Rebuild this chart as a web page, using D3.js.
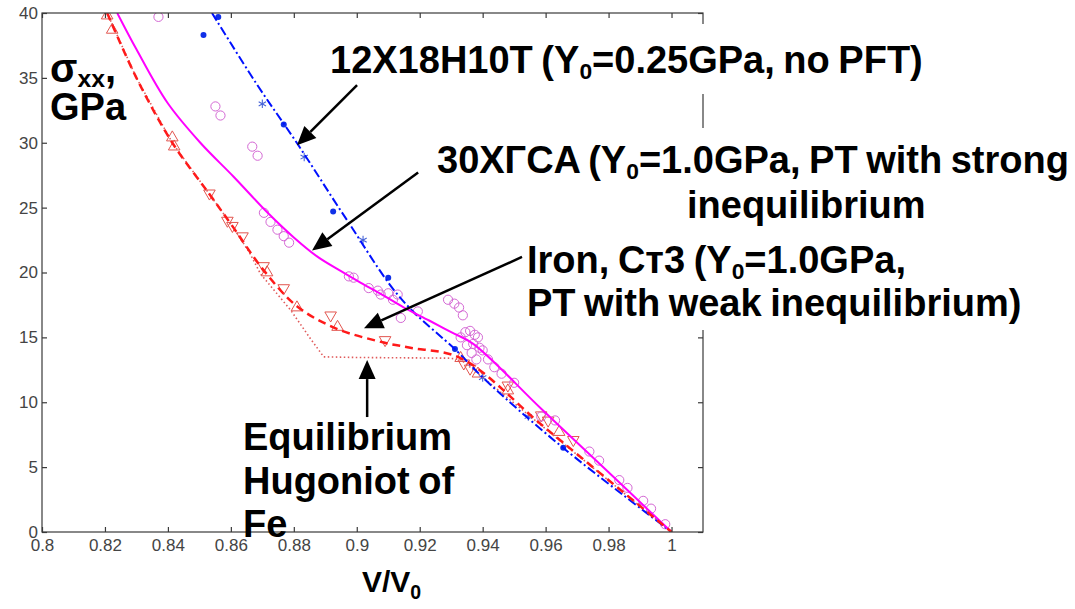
<!DOCTYPE html>
<html>
<head>
<meta charset="utf-8">
<script src="https://cdn.jsdelivr.net/npm/d3@7"></script>
<style>
  body { margin: 0; background: #fff; }
  svg { display: block; }
  text { font-family: "Liberation Sans", Arial, Helvetica, sans-serif; }
</style>
</head>
<body>
<svg id="chart" width="1075" height="609"></svg>
<script>
// ---- Axis ticks ----
const xTickValues = [0.8, 0.82, 0.84, 0.86, 0.88, 0.9, 0.92, 0.94, 0.96, 0.98, 1.0];
const xTickLabels = ["0.8", "0.82", "0.84", "0.86", "0.88", "0.9", "0.92", "0.94", "0.96", "0.98", "1"];
const yTickValues = [0, 5, 10, 15, 20, 25, 30, 35, 40];
const yTickLabels = ["0", "5", "10", "15", "20", "25", "30", "35", "40"];

// ---- Model curves (V/V0, sigma_xx in GPa) ----
// 12X18H10T steel, Y0 = 0.25 GPa, no phase transformation
const steelLineV = [0.8540, 0.8680, 0.8812, 0.8970, 0.9140, 0.9320, 0.9405, 0.9650, 1.0000];
const steelLineS = [40.0, 34.6, 29.9, 24.0, 18.0, 13.9, 11.8, 6.6, 0.0];

// 30XГCA steel, Y0 = 1.0 GPa, strong inequilibrium
const alloyLineV = [0.8239, 0.8300, 0.8398, 0.8503, 0.8608, 0.8717, 0.8800, 0.8876, 0.8950, 0.9013,
  0.9080, 0.9150, 0.9230, 0.9300, 0.9370, 0.9586, 0.9800, 1.0000];
const alloyLineS = [40.0, 37.2, 33.1, 30.0, 27.4, 24.6, 22.7, 21.2, 20.1, 19.2,
  18.3, 17.3, 16.3, 15.4, 14.5, 9.5, 4.6, 0.0];

// Iron Cт3, Y0 = 1.0 GPa, weak inequilibrium
const ironLineV = [0.8207, 0.8300, 0.8414, 0.8530, 0.8610, 0.8700, 0.8810, 0.8933, 0.9086, 0.9170, 0.9330, 0.9600, 1.0000];
const ironLineS = [40.0, 35.0, 30.0, 26.1, 23.4, 20.3, 17.4, 15.7, 14.6, 14.2, 13.4, 8.0, 0.0];

// Equilibrium Hugoniot of Fe
const eqLineV = [0.8207, 0.8300, 0.8414, 0.8530, 0.8610, 0.8660, 0.8694, 0.8790, 0.8850, 0.8895, 0.9000, 0.9290, 0.9330, 1.0000];
const eqLineS = [40.0, 35.0, 30.0, 26.1, 23.4, 21.5, 19.9, 17.1, 15.0, 13.5, 13.45, 13.4, 13.3, 0.0];

// ---- Experimental points ----
// 12X18H10T: two shot series (filled dots, asterisks)
const steelDotV = [0.8513, 0.8560, 0.8768, 0.8925, 0.9100, 0.9312, 0.9656];
const steelDotS = [38.3, 39.7, 31.4, 24.7, 19.6, 14.1, 6.5];
const steelStarV = [0.8700, 0.8833, 0.9020, 0.9400, 0.9545];
const steelStarS = [33.0, 28.9, 22.5, 11.9, 8.9];

// 30XГCA (open circles)
const alloyPtV = [0.8370, 0.8551, 0.8567, 0.8668, 0.8685, 0.8705, 0.8726, 0.8748, 0.8768, 0.8785,
  0.8975, 0.8990, 0.9038, 0.9067, 0.9076, 0.9100, 0.9115, 0.9130, 0.9140, 0.9194,
  0.9290, 0.9310, 0.9325, 0.9337, 0.9330, 0.9345, 0.9360, 0.9375, 0.9385, 0.9350,
  0.9370, 0.9390, 0.9400, 0.9365, 0.9380, 0.9417, 0.9437, 0.9460, 0.9500, 0.9586,
  0.9630, 0.9739, 0.9770, 0.9834, 0.9860, 0.9910, 0.9935, 0.9980];
const alloyPtS = [39.7, 32.8, 32.1, 29.7, 29.0, 24.6, 23.9, 23.3, 22.8, 22.3,
  19.7, 19.6, 18.8, 18.6, 18.3, 18.4, 17.9, 18.3, 16.5, 17.0,
  17.9, 17.6, 17.3, 16.7, 15.0, 15.4, 15.5, 15.2, 15.0, 14.4,
  14.5, 14.2, 14.0, 13.8, 13.3, 13.3, 12.7, 12.2, 11.5, 8.9,
  8.6, 6.2, 5.5, 4.0, 3.4, 2.4, 1.8, 0.6];

// Iron Cт3 (upward and downward triangles)
const ironUpV = [0.8207, 0.8223, 0.8414, 0.8420, 0.8715, 0.8810, 0.8939, 0.9330, 0.9385, 0.9480, 0.9643];
const ironUpS = [39.8, 38.7, 30.4, 29.7, 20.0, 17.3, 15.8, 13.4, 12.2, 10.9, 7.7];
const ironDownV = [0.8532, 0.8589, 0.8605, 0.8637, 0.8704, 0.8768, 0.8917, 0.9090, 0.9340, 0.9360, 0.9480, 0.9586, 0.9608, 0.9688];
const ironDownS = [26.1, 24.0, 23.6, 22.8, 20.5, 18.8, 16.7, 14.8, 13.0, 12.6, 11.3, 9.0, 8.6, 7.1];

// ---- Annotation arrows: tail and tip in data units ----
const arrowTailV = [0.9001, 0.9195, 0.9525, 0.9033];
const arrowTailS = [34.45, 27.7, 21.2, 8.86];
const arrowTipV = [0.8810, 0.8858, 0.9023, 0.9033];
const arrowTipS = [29.8, 21.7, 15.7, 13.25];

// ---- Layout ----
const svg = d3.select("#chart");
svg.append("rect").attr("width", 1075).attr("height", 609).attr("fill", "#fff");

const x = d3.scaleLinear().domain([0.8, 1.01]).range([42, 703]);
const y = d3.scaleLinear().domain([0, 40]).range([532, 13]);
const zip = (a, b) => a.map((v, i) => [v, b[i]]);

const plot = svg.append("g");
plot.append("clipPath").attr("id", "clip").append("rect")
  .attr("x", 42).attr("y", 13).attr("width", 661).attr("height", 519);
const data = plot.append("g").attr("clip-path", "url(#clip)");

// markers
const tri = d3.symbol().type(d3.symbolTriangle).size(58);
data.selectAll(".up").data(zip(ironUpV, ironUpS)).join("path")
  .attr("d", tri).attr("transform", d => `translate(${x(d[0])},${y(d[1])})`)
  .attr("fill", "none").attr("stroke", "#e2554f").attr("stroke-width", 1);
data.selectAll(".down").data(zip(ironDownV, ironDownS)).join("path")
  .attr("d", tri).attr("transform", d => `translate(${x(d[0])},${y(d[1])}) rotate(180)`)
  .attr("fill", "none").attr("stroke", "#e2554f").attr("stroke-width", 1);

data.selectAll(".circ").data(zip(alloyPtV, alloyPtS)).join("circle")
  .attr("cx", d => x(d[0])).attr("cy", d => y(d[1])).attr("r", 4.6)
  .attr("fill", "none").attr("stroke", "#d468d4").attr("stroke-width", 1);

data.selectAll(".dot").data(zip(steelDotV, steelDotS)).join("circle")
  .attr("cx", d => x(d[0])).attr("cy", d => y(d[1])).attr("r", 3)
  .attr("fill", "#1030e8");
const star = d3.symbol().type(d3.symbolAsterisk).size(50);
data.selectAll(".star").data(zip(steelStarV, steelStarS)).join("path")
  .attr("d", star).attr("transform", d => `translate(${x(d[0])},${y(d[1])})`)
  .attr("fill", "none").attr("stroke", "#4a66d8").attr("stroke-width", 1.1);

// curves
const smooth = d3.line().x(d => x(d[0])).y(d => y(d[1])).curve(d3.curveCatmullRom.alpha(0.5));
const straight = d3.line().x(d => x(d[0])).y(d => y(d[1]));

data.append("path").attr("d", straight(zip(eqLineV, eqLineS)))
  .attr("fill", "none").attr("stroke", "#e05a5a").attr("stroke-width", 1.6)
  .attr("stroke-dasharray", "1.5,2.5");
data.append("path").attr("d", smooth(zip(steelLineV, steelLineS)))
  .attr("fill", "none").attr("stroke", "#0010ff").attr("stroke-width", 2)
  .attr("stroke-dasharray", "9,3,2,3");
data.append("path").attr("d", smooth(zip(alloyLineV, alloyLineS)))
  .attr("fill", "none").attr("stroke", "#ff00ff").attr("stroke-width", 2);
data.append("path").attr("d", smooth(zip(ironLineV, ironLineS)))
  .attr("fill", "none").attr("stroke", "#ff1a1a").attr("stroke-width", 2.5)
  .attr("stroke-dasharray", "8,5");

// frame and ticks
const axisColor = "#3a3a3a";
function styleAxis(g, showLabels) {
  g.select(".domain").remove();
  g.selectAll(".tick line").attr("stroke", axisColor).attr("stroke-width", 1.2);
  if (showLabels) {
    g.selectAll(".tick text").attr("fill", "#444").attr("font-size", 17)
      .attr("font-family", "'Liberation Sans', Arial, sans-serif");
  } else {
    g.selectAll(".tick text").remove();
  }
}
plot.append("g").attr("transform", `translate(0,${y(0)})`)
  .call(d3.axisBottom(x).tickValues(xTickValues).tickFormat((d, i) => xTickLabels[i])
    .tickSizeInner(-5).tickSizeOuter(0).tickPadding(7))
  .call(g => styleAxis(g, true));
plot.append("g").attr("transform", `translate(0,${y(40)})`)
  .call(d3.axisTop(x).tickValues(xTickValues).tickSizeInner(-5).tickSizeOuter(0))
  .call(g => styleAxis(g, false));
plot.append("g").attr("transform", `translate(${x(0.8)},0)`)
  .call(d3.axisLeft(y).tickValues(yTickValues).tickFormat((d, i) => yTickLabels[i])
    .tickSizeInner(-5).tickSizeOuter(0).tickPadding(4))
  .call(g => styleAxis(g, true));
plot.append("g").attr("transform", `translate(${x(1.01)},0)`)
  .call(d3.axisRight(y).tickValues(yTickValues).tickSizeInner(-5).tickSizeOuter(0))
  .call(g => styleAxis(g, false));
plot.append("rect").attr("x", x(0.8)).attr("y", y(40))
  .attr("width", x(1.01) - x(0.8)).attr("height", y(0) - y(40))
  .attr("fill", "none").attr("stroke", axisColor).attr("stroke-width", 1.2);

// ---- Annotations ----
const ann = svg.append("g");
// white backing behind the callout texts
[[325, 24, 605, 70], [428, 128, 647, 104], [520, 232, 525, 98]].forEach(b =>
  ann.append("rect").attr("x", b[0]).attr("y", b[1]).attr("width", b[2]).attr("height", b[3]).attr("fill", "#fff"));

// parts: plain strings, or {sub, scale, shift} for a lowered, smaller run
function label(xp, yp, parts, size) {
  const t = ann.append("text").attr("x", xp).attr("y", yp)
    .attr("font-size", size).attr("font-weight", "bold").attr("fill", "#000")
    .attr("word-spacing", -2);
  let pending = 0;
  parts.forEach(p => {
    if (typeof p === "string") {
      const s = t.append("tspan").text(p);
      if (pending) { s.attr("dy", -pending); pending = 0; }
    } else {
      t.append("tspan").attr("font-size", size * p.scale).attr("dy", p.shift).text(p.sub);
      pending = p.shift;
    }
  });
  return t;
}
const FS = 38;
const sub0 = { sub: "0", scale: 0.6, shift: 6 };
label(330, 73, ["12X18H10T (Y", sub0, "=0.25GPa, no PFT)"], FS);
label(437, 173, ["30XГCA (Y", sub0, "=1.0GPa, PT with strong"], FS);
label(687, 218, ["inequilibrium"], FS);
label(527, 273, ["Iron, Cт3 (Y", sub0, "=1.0GPa,"], FS);
label(527, 316, ["PT with weak inequilibrium)"], FS);
label(243, 450, ["Equilibrium"], FS);
label(243, 494, ["Hugoniot of"], FS);
label(243, 537, ["Fe"], FS);

label(50, 82, ["σ", { sub: "xx", scale: 0.62, shift: 5 }, ","], 40);
label(50, 120, ["GPa"], 38);
label(362, 592, ["V/V", { sub: "0", scale: 0.65, shift: 7 }], 30);

// arrows
arrowTailV.forEach((tv, i) => {
  const x1 = x(tv), y1 = y(arrowTailS[i]), x2 = x(arrowTipV[i]), y2 = y(arrowTipS[i]);
  const ang = Math.atan2(y2 - y1, x2 - x1);
  const L = 19, W = 8.5;
  const bx = x2 - L * Math.cos(ang), by = y2 - L * Math.sin(ang);
  ann.append("line").attr("x1", x1).attr("y1", y1).attr("x2", bx).attr("y2", by)
    .attr("stroke", "#000").attr("stroke-width", 2.5);
  const px = -Math.sin(ang) * W, py = Math.cos(ang) * W;
  ann.append("polygon")
    .attr("points", `${x2},${y2} ${bx + px},${by + py} ${bx - px},${by - py}`)
    .attr("fill", "#000");
});
</script>
</body>
</html>
